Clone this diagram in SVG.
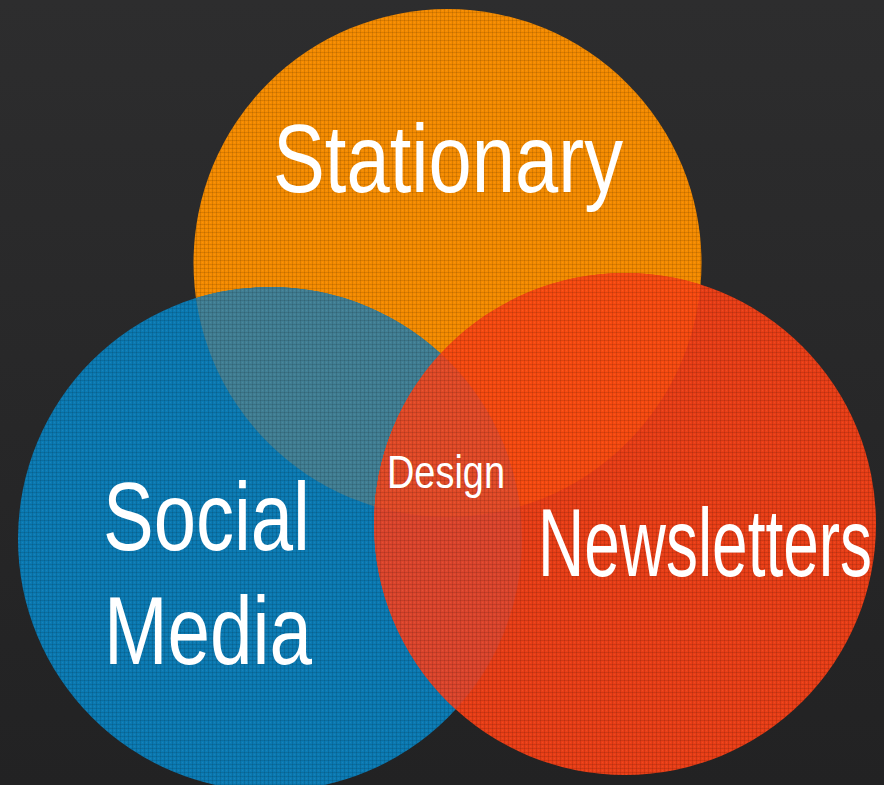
<svg xmlns="http://www.w3.org/2000/svg" width="884" height="785" viewBox="0 0 884 785">
  <defs>
    <linearGradient id="bg" x1="0" y1="0" x2="0" y2="1">
      <stop offset="0" stop-color="#2d2d2e"/>
      <stop offset="1" stop-color="#222223"/>
    </linearGradient>
    <!-- fine woven grid laid over the circle fills -->
    <pattern id="weave" width="4" height="4" patternUnits="userSpaceOnUse">
      <rect x="0" y="0" width="4" height="1" fill="#000" fill-opacity="0.11"/>
      <rect x="0" y="0" width="1" height="4" fill="#000" fill-opacity="0.11"/>
      <rect x="2" y="2" width="1" height="1" fill="#fff" fill-opacity="0.06"/>
    </pattern>
    <clipPath id="clip-orange"><circle cx="447.5" cy="263" r="254"/></clipPath>
    <clipPath id="clip-blue"><circle cx="270" cy="539" r="252"/></clipPath>
    <clipPath id="clip-red"><circle cx="625" cy="524" r="251"/></clipPath>
    <style>
      .label { fill: #ffffff; font-family: "Liberation Sans Narrow", "Liberation Sans", Arial, sans-serif; font-size: 96px; }
      .small { font-size: 47px; }
    </style>
  </defs>

  <rect width="884" height="785" fill="url(#bg)"/>

  <g id="stationary">
    <circle cx="447.5" cy="263" r="254" fill="#f58b00"/>
    <circle cx="447.5" cy="263" r="254" fill="url(#weave)"/>
    <text class="label" x="273" y="192" textLength="350" lengthAdjust="spacingAndGlyphs">Stationary</text>
  </g>

  <g id="social-media">
    <circle cx="270" cy="539" r="252" fill="#0b7ab3"/>
    <!-- blue over orange -->
    <circle cx="270" cy="539" r="252" fill="#417f94" clip-path="url(#clip-orange)"/>
    <circle cx="270" cy="539" r="252" fill="url(#weave)"/>
    <text class="label" x="103" y="550" textLength="207" lengthAdjust="spacingAndGlyphs">Social</text>
    <text class="label" x="104" y="664" textLength="208" lengthAdjust="spacingAndGlyphs">Media</text>
  </g>

  <g id="newsletters">
    <circle cx="625" cy="524" r="251" fill="#e93e16"/>
    <!-- red over orange -->
    <circle cx="625" cy="524" r="251" fill="#f74a10" clip-path="url(#clip-orange)"/>
    <!-- red over blue -->
    <g clip-path="url(#clip-blue)">
      <circle cx="625" cy="524" r="251" fill="#dc452c"/>
      <!-- red over blue over orange -->
      <circle cx="625" cy="524" r="251" fill="#e24a27" clip-path="url(#clip-orange)"/>
    </g>
    <circle cx="625" cy="524" r="251" fill="url(#weave)"/>
    <text class="label" x="538" y="576" textLength="334" lengthAdjust="spacingAndGlyphs">Newsletters</text>
  </g>

  <g id="design">
    <text class="label small" x="387" y="488" textLength="118" lengthAdjust="spacingAndGlyphs">Design</text>
  </g>

  <g id="connectors"/>
</svg>
